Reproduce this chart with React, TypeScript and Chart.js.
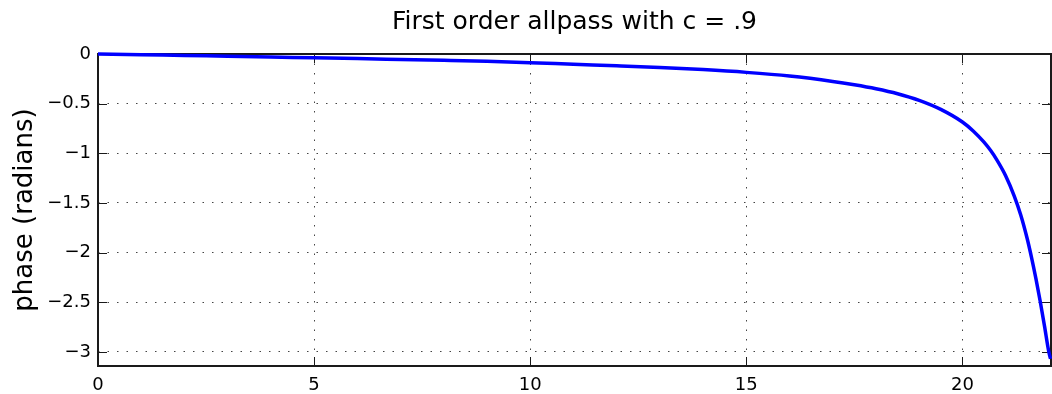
import React, { useEffect, useRef } from "react";
import { Chart, registerables } from "chart.js";

Chart.register(...registerables);

const TITLE = "First order allpass with c = .9";
const Y_LABEL = "phase (radians)";

const freqKHz = [
  0, 1, 2, 3, 4, 5, 6, 7, 8, 9, 10, 11, 12, 13, 14, 15, 16, 17, 17.5, 18,
  18.5, 19, 19.5, 20, 20.25, 20.5, 20.65, 20.8, 21, 21.2, 21.35, 21.5, 21.6,
  21.7, 21.8, 21.9, 22, 22.04,
];
const phaseRad = [
  0, -0.007, -0.015, -0.022, -0.03, -0.038, -0.046, -0.055, -0.064, -0.074,
  -0.087, -0.103, -0.118, -0.135, -0.157, -0.185, -0.222, -0.276, -0.31,
  -0.35, -0.4, -0.467, -0.558, -0.685, -0.775, -0.888, -0.97, -1.068, -1.225,
  -1.43, -1.62, -1.86, -2.05, -2.26, -2.49, -2.74, -3.0, -3.07,
];

const xTicks = [0, 5, 10, 15, 20];
const yTicks = [0, -0.5, -1, -1.5, -2, -2.5, -3];
const X_MIN = 0;
const X_MAX = 22.05;
const Y_MIN = -3.1416;
const Y_MAX = 0;

const FONT = "'DejaVu Sans', Verdana, sans-serif";

const fmt = (v: number) => {
  const s = String(Math.abs(v));
  return v < 0 ? "\u2212" + s : s;
};

const boxPlugin = {
  id: "matlabBox",
  beforeDatasetsDraw(chart: any) {
    const { ctx, chartArea: a, scales } = chart;
    const tl = 9;
    ctx.save();
    ctx.strokeStyle = "#1a1a1a";
    ctx.lineWidth = 1;
    ctx.beginPath();
    xTicks.forEach((v) => {
      const px = Math.round(scales.x.getPixelForValue(v)) + 0.5;
      ctx.moveTo(px, a.bottom);
      ctx.lineTo(px, a.bottom - tl);
      ctx.moveTo(px, a.top);
      ctx.lineTo(px, a.top + tl);
    });
    yTicks.forEach((v) => {
      const py = Math.round(scales.y.getPixelForValue(v)) + 0.5;
      ctx.moveTo(a.left, py);
      ctx.lineTo(a.left + tl, py);
      ctx.moveTo(a.right, py);
      ctx.lineTo(a.right - tl, py);
    });
    ctx.stroke();
    ctx.lineWidth = 2;
    ctx.strokeStyle = "#1a1a1a";
    ctx.strokeRect(a.left, a.top, a.right - a.left, a.bottom - a.top);
    ctx.restore();
  },
};

export default function App() {
  const ref = useRef<HTMLCanvasElement | null>(null);

  useEffect(() => {
    if (!ref.current) return;
    const chart = new Chart(ref.current, {
      type: "line",
      data: {
        datasets: [
          {
            data: freqKHz.map((x, i) => ({ x, y: phaseRad[i] })),
            borderColor: "#0000ff",
            borderWidth: 3.5,
            pointRadius: 0,
            cubicInterpolationMode: "monotone",
            clip: 6,
          } as any,
        ],
      },
      options: {
        animation: false,
        responsive: false,
        devicePixelRatio: 1,
        layout: { padding: { left: 0, right: 1, top: 0, bottom: 0 } },
        plugins: {
          legend: { display: false },
          tooltip: { enabled: false },
          title: {
            display: true,
            text: TITLE,
            fullSize: false,
            color: "#000",
            font: { family: FONT, size: 25, weight: "normal", lineHeight: 1.2 },
            padding: { top: 7, bottom: 17 },
          },
        },
        scales: {
          x: {
            type: "linear",
            min: X_MIN,
            max: X_MAX,
            afterBuildTicks: (s: any) => {
              s.ticks = xTicks.map((v) => ({ value: v }));
            },
            afterFit: (s: any) => {
              s.height = 28;
            },
            ticks: {
              color: "#000",
              font: { family: FONT, size: 18 },
              padding: 9,
              maxRotation: 0,
              callback: (v: any) => fmt(Number(v)),
            },
            grid: { color: "#444", lineWidth: 1, drawTicks: false },
            border: { display: false, dash: [1.5, 8] },
          },
          y: {
            type: "linear",
            min: Y_MIN,
            max: Y_MAX,
            afterBuildTicks: (s: any) => {
              s.ticks = yTicks.map((v) => ({ value: v }));
            },
            afterFit: (s: any) => {
              s.width = 98;
            },
            ticks: {
              color: "#000",
              font: { family: FONT, size: 18 },
              padding: 7,
              callback: (v: any) => fmt(Number(v)),
            },
            grid: { color: "#444", lineWidth: 1, drawTicks: false },
            border: { display: false, dash: [1.5, 8] },
            title: {
              display: true,
              text: Y_LABEL,
              color: "#000",
              font: { family: FONT, size: 26, lineHeight: 1.2 },
              padding: { top: 10, bottom: 0 },
            },
          },
        },
      },
      plugins: [boxPlugin],
    } as any);
    return () => chart.destroy();
  }, []);

  return (
    <div style={{ position: "fixed", left: 0, top: 0, width: 1052, height: 394, background: "#fff" }}>
      <canvas ref={ref} width={1052} height={394} style={{ display: "block" }} />
    </div>
  );
}
